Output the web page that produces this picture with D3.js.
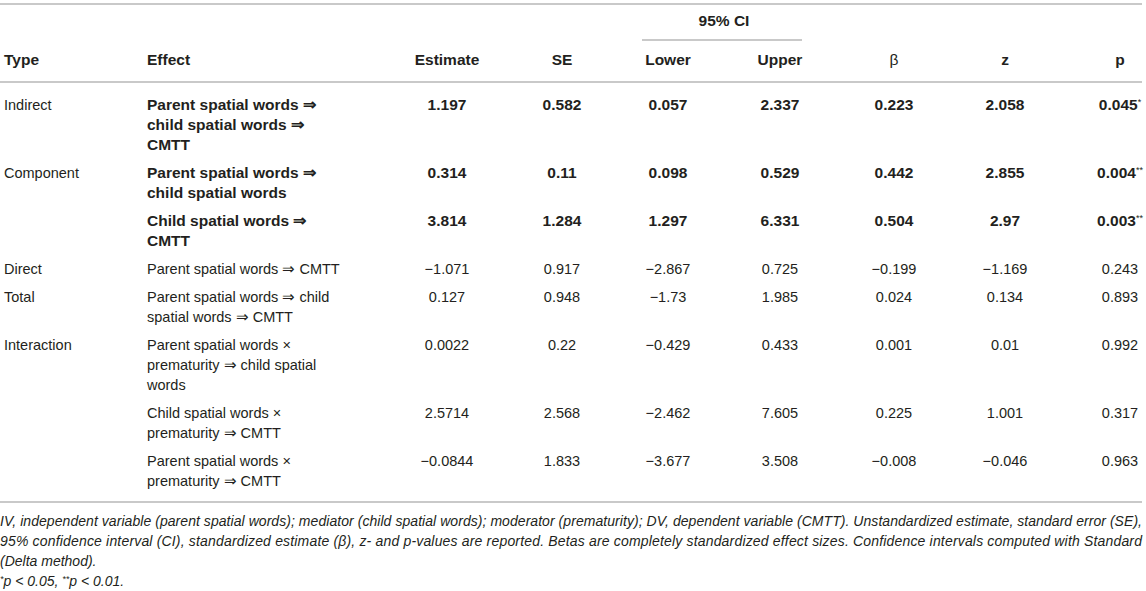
<!DOCTYPE html>
<html>
<head>
<meta charset="utf-8">
<script src="https://cdn.jsdelivr.net/npm/d3@7"></script>
<style>
    body { margin: 0; background: #fff; }
    svg { display: block; font-family: "Liberation Sans", Arial, Helvetica, sans-serif; }
    .cell { fill: #231f20; font-size: 14.5px; }
    .bold { font-weight: bold; font-size: 15.5px; }
    .rule { stroke: #c9c9c9; stroke-width: 2; }
    .note { fill: #231f20; font-size: 14px; font-style: italic; }
</style>
</head>
<body>
<svg id="table" width="1146" height="591"></svg>
<script>

/* ------------------------- DATA ------------------------- */

let types = ["Indirect", "Component", "", "Direct", "Total", "Interaction", "", ""]

let effects = [
    ["Parent spatial words \u21d2", "child spatial words \u21d2", "CMTT"],
    ["Parent spatial words \u21d2", "child spatial words"],
    ["Child spatial words \u21d2", "CMTT"],
    ["Parent spatial words \u21d2 CMTT"],
    ["Parent spatial words \u21d2 child", "spatial words \u21d2 CMTT"],
    ["Parent spatial words \u00d7", "prematurity \u21d2 child spatial", "words"],
    ["Child spatial words \u00d7", "prematurity \u21d2 CMTT"],
    ["Parent spatial words \u00d7", "prematurity \u21d2 CMTT"]
]

let estimate = [1.197, 0.314, 3.814, -1.071, 0.127, 0.0022, 2.5714, -0.0844]
let se       = [0.582, 0.11, 1.284, 0.917, 0.948, 0.22, 2.568, 1.833]
let lower    = [0.057, 0.098, 1.297, -2.867, -1.73, -0.429, -2.462, -3.677]
let upper    = [2.337, 0.529, 6.331, 0.725, 1.985, 0.433, 7.605, 3.508]
let beta     = [0.223, 0.442, 0.504, -0.199, 0.024, 0.001, 0.225, -0.008]
let zval     = [2.058, 2.855, 2.97, -1.169, 0.134, 0.01, 1.001, -0.046]
let pval     = [0.045, 0.004, 0.003, 0.243, 0.893, 0.992, 0.317, 0.963]
let stars    = ["*", "**", "**", "", "", "", "", ""]
let boldRows = [true, true, true, false, false, false, false, false]

let numCols = ["Estimate", "SE", "Lower", "Upper", "\u03b2", "z", "p"]

let notes = [
    "IV, independent variable (parent spatial words); mediator (child spatial words); moderator (prematurity); DV, dependent variable (CMTT). Unstandardized estimate, standard error (SE),",
    "95% confidence interval (CI), standardized estimate (\u03b2), z- and p-values are reported. Betas are completely standardized effect sizes. Confidence intervals computed with Standard",
    "(Delta method)."
]

/* ------------------------- LAYOUT ------------------------- */

let lineH = 20
let rowPad = 8
let headLine = 82

let colX = d3.scaleOrdinal()
    .domain(numCols)
    .range([447, 562, 668, 780, 894, 1005, 1120])

// top of each row, from the number of wrapped lines in the Effect column
let rowTop = []
let acc = headLine
effects.forEach(function (lines) {
    rowTop.push(acc)
    acc += lines.length * lineH + rowPad
})
let bottomLine = acc + 16

function fmt(v) { return String(v).replace("-", "\u2212") }

/* ------------------------- DRAW ------------------------- */

let svg = d3.select("#table")

// rules
svg.append("line").attr("class", "rule").attr("x1", 0).attr("x2", 1142).attr("y1", 4).attr("y2", 4)
svg.append("line").attr("class", "rule").attr("x1", 642).attr("x2", 802).attr("y1", 40).attr("y2", 40)
svg.append("line").attr("class", "rule").attr("x1", 0).attr("x2", 1142).attr("y1", headLine).attr("y2", headLine)
svg.append("line").attr("class", "rule").attr("x1", 0).attr("x2", 1142).attr("y1", bottomLine).attr("y2", bottomLine)

// header
let head = svg.append("g").attr("class", "cell bold")
head.append("text").attr("x", (colX("Lower") + colX("Upper")) / 2).attr("y", 26)
    .attr("text-anchor", "middle").text("95% CI")
head.append("text").attr("x", 4).attr("y", 65).text("Type")
head.append("text").attr("x", 147).attr("y", 65).text("Effect")
head.selectAll("text.num")
    .data(numCols)
    .enter().append("text")
        .attr("class", "num")
        .attr("x", function (d) { return colX(d) })
        .attr("y", 65)
        .attr("text-anchor", "middle")
        .style("font-weight", function (d) { return d == "\u03b2" ? "normal" : null })
        .text(function (d) { return d })

// body rows
let rows = svg.append("g").selectAll("g.row")
    .data(effects.map(function (lines, i) {
        return {
            type: types[i], lines: lines, bold: boldRows[i], star: stars[i],
            values: [estimate[i], se[i], lower[i], upper[i], beta[i], zval[i], pval[i]]
        }
    }))
    .enter().append("g")
        .attr("class", function (d) { return d.bold ? "row cell bold" : "row cell" })
        .attr("transform", function (d, i) { return "translate(0," + (rowTop[i] + 28) + ")" })

rows.append("text").attr("x", 4).attr("y", 0)
    .style("font-weight", "normal")
    .style("font-size", "14.5px")
    .text(function (d) { return d.type })

rows.selectAll("text.effect")
    .data(function (d) { return d.lines })
    .enter().append("text")
        .attr("class", "effect")
        .attr("x", 147)
        .attr("y", function (d, i) { return i * lineH })
        .text(function (d) { return d })

rows.each(function (d) {
    let g = d3.select(this)
    d.values.forEach(function (v, j) {
        let t = g.append("text")
            .attr("x", colX(numCols[j]))
            .attr("y", 0)
            .attr("text-anchor", "middle")
        t.append("tspan").text(fmt(v))
        if (j == 6 && d.star) {
            t.append("tspan")
                .attr("dy", -5)
                .style("font-size", "9px")
                .style("font-weight", "normal")
                .text(d.star)
        }
    })
})

// footnote
let foot = svg.append("g").attr("class", "note")
notes.forEach(function (line, i) {
    let t = foot.append("text").attr("x", 0).attr("y", bottomLine + 24 + i * 20).text(line)
    if (i < 2) t.attr("textLength", 1142).attr("lengthAdjust", "spacing")
})
let last = foot.append("text").attr("x", 0).attr("y", bottomLine + 84)
last.append("tspan").attr("dy", -4).style("font-size", "9px").text("*")
last.append("tspan").attr("dy", 4).text("p < 0.05, ")
last.append("tspan").attr("dy", -4).style("font-size", "9px").text("**")
last.append("tspan").attr("dy", 4).text("p < 0.01.")

</script>
</body>
</html>
